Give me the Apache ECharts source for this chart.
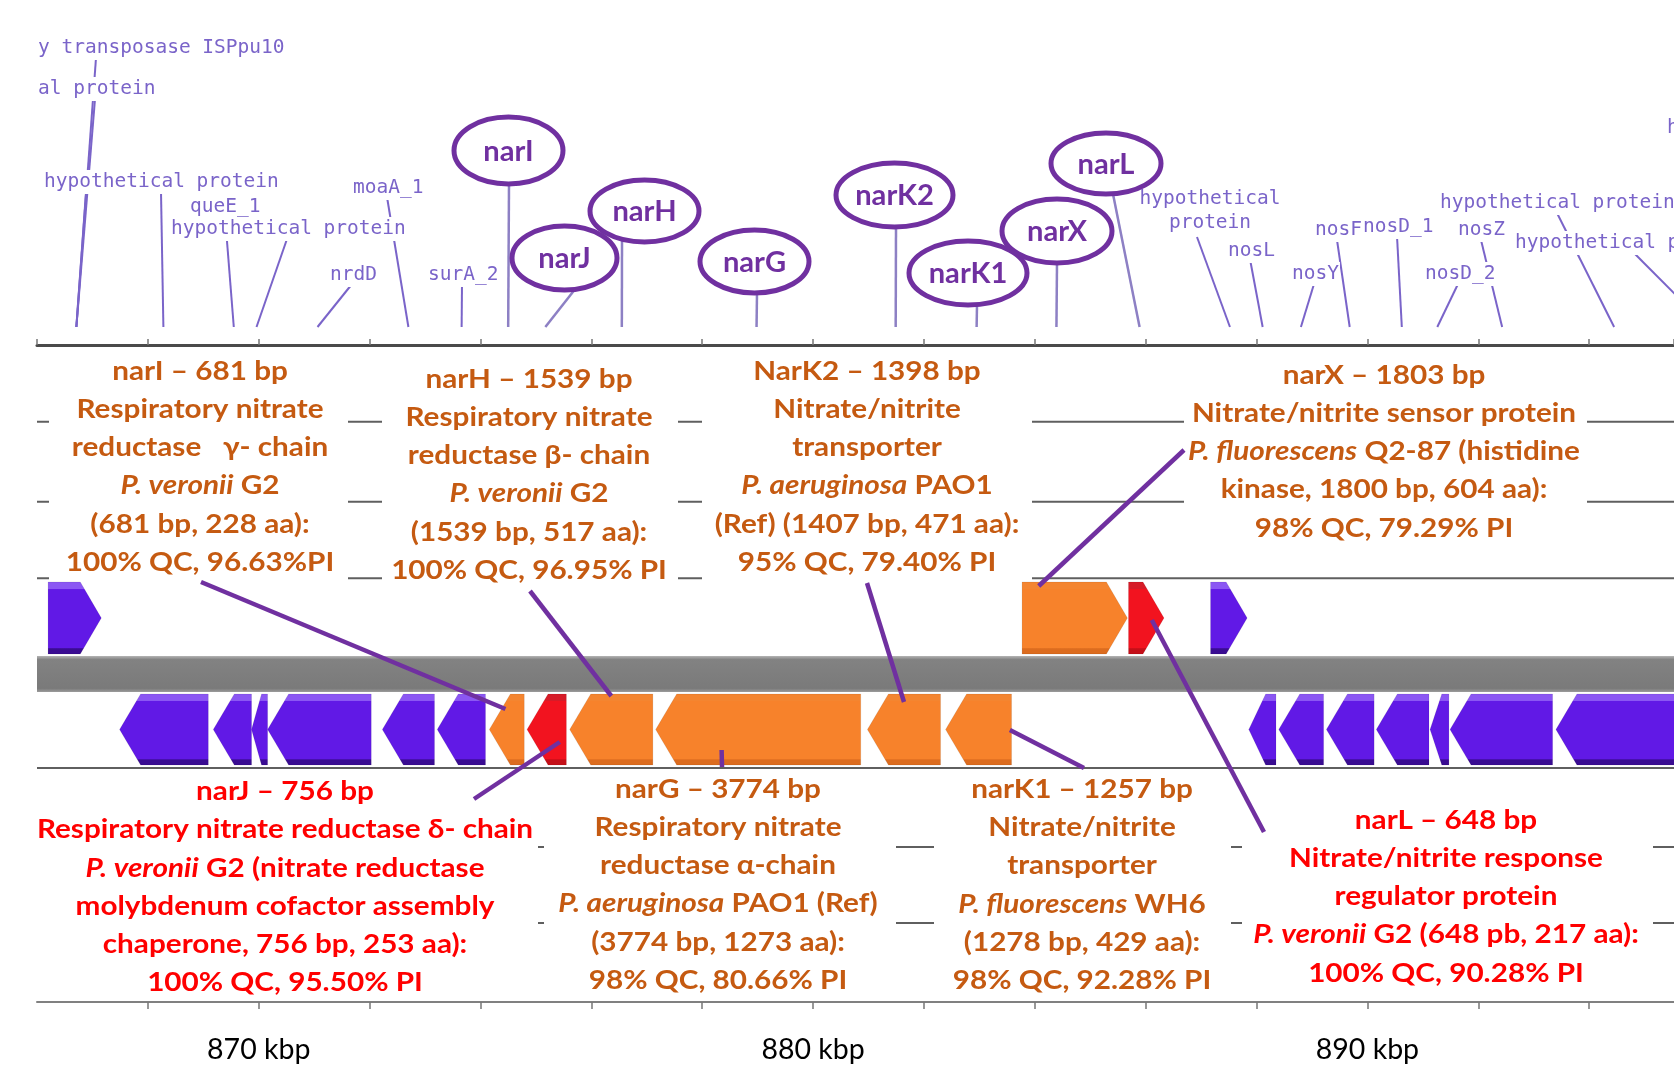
<!DOCTYPE html>
<html>
<head>
<meta charset="utf-8">
<script src="https://cdn.jsdelivr.net/npm/echarts@6/dist/echarts.min.js"></script>
<style>
  html, body { margin: 0; padding: 0; background: #ffffff; }
  #chart { width: 1674px; height: 1083px; }
</style>
</head>
<body>
<div id="chart"></div>
<script>
// ---------------------------------------------------------------
// Genome window (kbp) and axis ticks
// ---------------------------------------------------------------
const AXIS_MIN = 866;
const AXIS_MAX = 895.53;
const TICK_STEP = 2;
const AXIS_LABEL_KBP = [870, 880, 890];

// ---------------------------------------------------------------
// Genes (kbp); strand +1 forward, -1 reverse
// group: 'other' (purple), 'nar' (orange), 'focus' (red)
// ---------------------------------------------------------------
const geneNames  = ['g1', 'narX', 'narL', 'g2',
                    'r1', 'r2', 'r3', 'r4', 'r5', 'r6',
                    'narI', 'narJ', 'narH', 'narG', 'narK2', 'narK1',
                    'r7', 'r8', 'r9', 'r10', 'r11', 'r12', 'r13'];
const geneStart  = [866.20, 883.77, 885.69, 887.17,
                    867.49, 869.18, 869.87, 870.16, 872.23, 873.22,
                    874.16, 874.84, 875.61, 877.16, 880.98, 882.39,
                    887.86, 888.40, 889.26, 890.16, 891.13, 891.49, 893.40];
const geneEnd    = [867.16, 885.67, 886.33, 887.83,
                    869.09, 869.87, 870.16, 872.03, 873.17, 874.09,
                    874.79, 875.55, 877.11, 880.86, 882.30, 883.58,
                    888.35, 889.21, 890.12, 891.11, 891.47, 893.34, 896.50];
const geneStrand = [1, 1, 1, 1,
                    -1, -1, -1, -1, -1, -1,
                    -1, -1, -1, -1, -1, -1,
                    -1, -1, -1, -1, -1, -1, -1];
const geneGroup  = ['other', 'nar', 'focus', 'other',
                    'other', 'other', 'other', 'other', 'other', 'other',
                    'nar', 'focus', 'nar', 'nar', 'nar', 'nar',
                    'other', 'other', 'other', 'other', 'other', 'other', 'other'];

// ---------------------------------------------------------------
// Feature labels above the map and the gene (kbp) each one points to
// ---------------------------------------------------------------
const featureText = ['y transposase ISPpu10', 'al protein', 'hypothetical protein', 'queE_1',
                     'hypothetical protein', 'moaA_1', 'nrdD', 'surA_2',
                     'hypothetical\nprotein', 'nosL', 'nosY', 'nosF', 'nosD_1', 'nosZ', 'nosD_2',
                     'hypothetical protein', 'hypothetical protein', 'hypothetical protein'];
const featureAnchorKbp = [[866.71], [866.71], [866.71, 868.28], [869.55],
                          [869.96], [872.70], [871.06], [873.66],
                          [887.52], [888.11], [888.80], [889.68], [890.62], [892.43], [891.26],
                          [894.45], [896.14], []];

// nar gene tags (ellipses) and their anchor (kbp)
const tagText      = ['narI', 'narH', 'narJ', 'narG', 'narK2', 'narK1', 'narX', 'narL'];
const tagAnchorKbp = [874.50, 876.55, 875.17, 878.98, 881.49, 882.95, 884.39, 885.89];

// ---------------------------------------------------------------
// BLAST summaries for the nar cluster
// ---------------------------------------------------------------
const noteNarI  = ['narI – 681 bp', 'Respiratory nitrate', 'reductase   γ- chain', '{i|P. veronii} G2', '(681 bp, 228 aa):', '100% QC, 96.63%PI'];
const noteNarH  = ['narH – 1539 bp', 'Respiratory nitrate', 'reductase β- chain', '{i|P. veronii} G2', '(1539 bp, 517 aa):', '100% QC, 96.95% PI'];
const noteNarK2 = ['NarK2 – 1398 bp', 'Nitrate/nitrite', 'transporter', '{i|P. aeruginosa} PAO1', '(Ref) (1407 bp, 471 aa):', '95% QC, 79.40% PI'];
const noteNarX  = ['narX – 1803 bp', 'Nitrate/nitrite sensor protein', '{i|P. fluorescens} Q2-87 (histidine', 'kinase, 1800 bp, 604 aa):', '98% QC, 79.29% PI'];
const noteNarJ  = ['narJ – 756 bp', 'Respiratory nitrate reductase δ- chain', '{i|P. veronii} G2 (nitrate reductase', 'molybdenum cofactor assembly', 'chaperone, 756 bp, 253 aa):', '100% QC, 95.50% PI'];
const noteNarG  = ['narG – 3774 bp', 'Respiratory nitrate', 'reductase α-chain', '{i|P. aeruginosa} PAO1 (Ref)', '(3774 bp, 1273 aa):', '98% QC, 80.66% PI'];
const noteNarK1 = ['narK1 – 1257 bp', 'Nitrate/nitrite', 'transporter', '{i|P. fluorescens} WH6', '(1278 bp, 429 aa):', '98% QC, 92.28% PI'];
const noteNarL  = ['narL – 648 bp', 'Nitrate/nitrite response', 'regulator protein', '{i|P. veronii} G2 (648 pb, 217 aa):', '100% QC, 90.28% PI'];

// gene position (kbp) each summary's pointer lands on
const pointerKbp = [874.45, 876.36, 881.64, 884.07, 875.43, 878.35, 883.55, 886.11];

// ---------------------------------------------------------------
// Layout (pixels)
// ---------------------------------------------------------------
const GRID_LEFT = 37;
const AXIS_Y = 1002;
const TOP_AXIS_Y = 345;
const FWD_TRACK = [582, 654];
const REV_TRACK = [694, 765];
const BAND = [656, 692];
const TRACK_LINES_Y = [421.7, 501.7, 578.3, 768, 847, 923];
const LABEL_LINE_END_Y = 327;

const FONT = 'Lato, "Noto Sans", sans-serif';
const MONO = '"DejaVu Sans Mono", "Liberation Mono", monospace';
const ORANGE = '#c55a11';
const RED = '#ff0000';
const TAG_PURPLE = '#7030a0';
const LABEL_PURPLE = '#7a64c9';
const NOTE_SIZE = 27;
const NOTE_STRETCH = 1.1;

// text position [x, y(center)] and the start of each pointer line
const featureLayout = [
  { x: 37,   y: 48,  from: [[96, 58]] },
  { x: 37,   y: 89,  from: [[95, 99]] },
  { x: 43,   y: 182, from: [[86, 192], [161, 192]] },
  { x: 189,  y: 207, from: [[225, 216]] },
  { x: 170,  y: 229, from: [[287, 239]] },
  { x: 352,  y: 188, from: [[387, 197]] },
  { x: 329,  y: 275, from: [[352, 284]] },
  { x: 427,  y: 275, from: [[462, 284]] },
  { x: 1210, y: 211, center: true, from: [[1197, 237]] },
  { x: 1227, y: 251, from: [[1250, 259]] },
  { x: 1291, y: 274, from: [[1314, 284]] },
  { x: 1314, y: 230, from: [[1337, 240]] },
  { x: 1362, y: 227, from: [[1397, 236]] },
  { x: 1457, y: 230, from: [[1481, 240]] },
  { x: 1424, y: 274, from: [[1458, 284]] },
  { x: 1439, y: 203, from: [[1557, 213]] },
  { x: 1514, y: 243, from: [[1633, 252]] },
  { x: 1666, y: 128, from: [] }
];

// ellipse [cx, cy, rx, ry] and pointer start
const tagLayout = [
  { c: [508.5, 150.5, 54.5, 33.5], from: [509, 184] },
  { c: [644.5, 211, 54.5, 31],     from: [622, 241] },
  { c: [564.5, 258, 52.5, 32],     from: [576, 288] },
  { c: [754.5, 261.5, 54.5, 31.5], from: [757, 293] },
  { c: [894.5, 195, 58.5, 32],     from: [896, 227] },
  { c: [968, 273, 59, 32],         from: [977, 305] },
  { c: [1057, 231, 55, 32],        from: [1057, 263] },
  { c: [1106, 163.5, 55, 30.5],    from: [1113, 194] }
];

// summary blocks: text centre, colour, white backing box
const notes = [
  { lines: noteNarI,  x: 200,  y: 466.5, color: ORANGE, box: [49, 350, 299, 230] },
  { lines: noteNarH,  x: 529,  y: 474.5, color: ORANGE, box: [382, 350, 296, 230] },
  { lines: noteNarK2, x: 867,  y: 466.5, color: ORANGE, box: [702, 350, 330, 230] },
  { lines: noteNarX,  x: 1384, y: 451.5, color: ORANGE, box: [1184, 350, 403, 190] },
  { lines: noteNarJ,  x: 285,  y: 887,   color: RED,    box: [37, 772, 501, 226] },
  { lines: noteNarG,  x: 718,  y: 884.5, color: ORANGE, box: [544, 772, 352, 226] },
  { lines: noteNarK1, x: 1082, y: 884.8, color: ORANGE, box: [934, 772, 297, 226] },
  { lines: noteNarL,  x: 1446, y: 896.5, color: RED,    box: [1242, 772, 411, 226] }
];

// pointer start [x, y] on the summary side, and y where it meets the gene
const pointerLayout = [
  { from: [201, 582],  y: 709 },
  { from: [530, 591],  y: 696 },
  { from: [867, 583],  y: 702 },
  { from: [1184, 450], y: 586 },
  { from: [474, 799],  y: 742 },
  { from: [722, 767],  y: 750 },
  { from: [1084, 768], y: 730 },
  { from: [1264, 832], y: 620 }
];

const GENE_COLORS = {
  other: { top: '#8b57f3', main: '#6119e6', bottom: '#3a0c92' },
  nar:   { top: '#f48530', main: '#f7822b', bottom: '#dc6c1f' },
  focus: { top: '#d61c28', main: '#f2131f', bottom: '#c40f18' }
};

// ---------------------------------------------------------------
const chart = echarts.init(document.getElementById('chart'), null, { renderer: 'canvas' });

function geneFill(group) {
  const c = GENE_COLORS[group];
  return new echarts.graphic.LinearGradient(0, 0, 0, 1, [
    { offset: 0, color: c.top }, { offset: 0.1, color: c.top },
    { offset: 0.11, color: c.main }, { offset: 0.91, color: c.main },
    { offset: 0.92, color: c.bottom }, { offset: 1, color: c.bottom }
  ]);
}

const geneData = geneNames.map((n, i) => [geneStart[i], geneEnd[i], geneStrand[i], i]);

function renderGene(params, api) {
  const i = api.value(3);
  const x1 = api.coord([api.value(0), 0])[0];
  const x2 = api.coord([api.value(1), 0])[0];
  const fwd = api.value(2) > 0;
  const [top, bottom] = fwd ? FWD_TRACK : REV_TRACK;
  const mid = (top + bottom) / 2;
  const w = x2 - x1;
  const head = Math.min(21, w * 0.62);
  const pts = fwd
    ? [[x1, top], [x2 - head, top], [x2, mid], [x2 - head, bottom], [x1, bottom]]
    : [[x1, mid], [x1 + head, top], [x2, top], [x2, bottom], [x1 + head, bottom]];
  return {
    type: 'polygon',
    shape: { points: pts },
    style: { fill: geneFill(geneGroup[i]), stroke: 'rgba(0,0,0,0.08)', lineWidth: 1 }
  };
}

// pointer lines from feature labels down to the genes
const featureLineData = [];
featureText.forEach((t, i) => {
  featureAnchorKbp[i].forEach((k, j) => featureLineData.push([k, i, j]));
});
function renderFeatureLine(params, api) {
  const k = api.value(0), i = api.value(1), j = api.value(2);
  const from = featureLayout[i].from[j];
  const x = api.coord([k, 0])[0];
  return {
    type: 'line',
    shape: { x1: from[0], y1: from[1], x2: x, y2: LABEL_LINE_END_Y },
    style: { stroke: LABEL_PURPLE, lineWidth: 2 }
  };
}

const featureTextData = featureText.map((t, i) => [i]);
function renderFeatureText(params, api) {
  const i = api.value(0);
  const L = featureLayout[i];
  return {
    type: 'text',
    x: L.x, y: L.y,
    style: {
      text: featureText[i],
      fill: LABEL_PURPLE,
      fontSize: 19.5, fontFamily: MONO,
      align: L.center ? 'center' : 'left', textAlign: L.center ? 'center' : 'left',
      verticalAlign: 'middle', textVerticalAlign: 'middle',
      lineHeight: 24,
      backgroundColor: '#ffffff',
      padding: [0, 1]
    }
  };
}

// ellipse tags and their pointer lines
const tagData = tagText.map((t, i) => [tagAnchorKbp[i], i]);
function renderTagLine(params, api) {
  const i = api.value(1);
  const x = api.coord([api.value(0), 0])[0];
  const f = tagLayout[i].from;
  return {
    type: 'line',
    shape: { x1: f[0], y1: f[1], x2: x, y2: LABEL_LINE_END_Y },
    style: { stroke: '#8d80c4', lineWidth: 2.5 }
  };
}
function renderTag(params, api) {
  const i = api.value(1);
  const c = tagLayout[i].c;
  return {
    type: 'group',
    children: [
      { type: 'ellipse', shape: { cx: c[0], cy: c[1], rx: c[2], ry: c[3] },
        style: { fill: '#ffffff', stroke: TAG_PURPLE, lineWidth: 5 } },
      { type: 'text', x: c[0], y: c[1] + 1, scaleX: 1.04,
        style: { text: tagText[i], fill: TAG_PURPLE,
                 fontSize: 28, fontWeight: 'bold', fontFamily: FONT,
                 align: 'center', textAlign: 'center',
                 verticalAlign: 'middle', textVerticalAlign: 'middle' } }
    ]
  };
}

// pointers from the summaries to the genes
const pointerData = pointerKbp.map((k, i) => [k, i]);
function renderPointer(params, api) {
  const i = api.value(1);
  const P = pointerLayout[i];
  const x = api.coord([api.value(0), 0])[0];
  return {
    type: 'line',
    shape: { x1: P.from[0], y1: P.from[1], x2: x, y2: P.y },
    style: { stroke: TAG_PURPLE, lineWidth: 4.5, lineCap: 'butt' }
  };
}

// static drawing: track guide lines, white backing boxes, grey band, summaries
const graphics = [];
TRACK_LINES_Y.forEach(y => {
  graphics.push({ type: 'line', z: 0, silent: true,
    shape: { x1: GRID_LEFT, y1: y, x2: 1674, y2: y },
    style: { stroke: '#5f5f5f', lineWidth: 2 } });
});
graphics.push({ type: 'rect', z: 0, silent: true,
  shape: { x: GRID_LEFT, y: BAND[0], width: 1674 - GRID_LEFT, height: BAND[1] - BAND[0] },
  style: { fill: new echarts.graphic.LinearGradient(0, 0, 0, 1, [
    { offset: 0, color: '#b4b4b4' }, { offset: 0.1, color: '#828282' },
    { offset: 0.9, color: '#7a7a7a' }, { offset: 1, color: '#9c9c9c' }]) } });
notes.forEach(n => {
  graphics.push({ type: 'rect', z: 1, silent: true,
    shape: { x: n.box[0], y: n.box[1], width: n.box[2], height: n.box[3] },
    style: { fill: '#ffffff' } });
  graphics.push({ type: 'text', z: 3, silent: true, x: n.x, y: n.y, scaleX: NOTE_STRETCH,
    style: {
      text: n.lines.join('\n'),
      fill: n.color,
      fontSize: NOTE_SIZE, fontWeight: 'bold', fontFamily: FONT,
      align: 'center', textAlign: 'center',
      verticalAlign: 'middle', textVerticalAlign: 'middle',
      lineHeight: 38.2,
      rich: { i: { fill: n.color, fontSize: NOTE_SIZE, fontWeight: 'bold', fontStyle: 'italic', fontFamily: FONT, lineHeight: 38.2 } }
    } });
});

const option = {
  animation: false,
  backgroundColor: '#ffffff',
  grid: [
    { left: GRID_LEFT, right: 0, top: 0, bottom: 1083 - AXIS_Y },
    { left: GRID_LEFT, right: 0, top: 0, height: TOP_AXIS_Y }
  ],
  xAxis: [
    { type: 'value', gridIndex: 0, min: AXIS_MIN, max: AXIS_MAX, interval: TICK_STEP,
      position: 'bottom',
      axisLine: { show: true, onZero: false, lineStyle: { color: '#808080', width: 2 } },
      axisTick: { show: true, length: 7, lineStyle: { color: '#777777', width: 1.5 } },
      splitLine: { show: false },
      axisLabel: { show: true, margin: 33, fontSize: 28.5, fontFamily: FONT, color: '#000000',
        showMinLabel: false, showMaxLabel: false,
        formatter: v => AXIS_LABEL_KBP.indexOf(Math.round(v)) >= 0 && Math.abs(v - Math.round(v)) < 1e-6 ? v + ' kbp' : '' } },
    { type: 'value', gridIndex: 1, min: AXIS_MIN, max: AXIS_MAX, interval: TICK_STEP,
      position: 'bottom',
      axisLine: { show: true, onZero: false, lineStyle: { color: '#4a4a4a', width: 3 } },
      axisTick: { show: true, inside: true, length: 6, lineStyle: { color: '#777777', width: 1.5 } },
      splitLine: { show: false },
      axisLabel: { show: false } }
  ],
  yAxis: [
    { type: 'value', gridIndex: 0, min: 0, max: AXIS_Y, inverse: true, show: false },
    { type: 'value', gridIndex: 1, min: 0, max: 1, show: false }
  ],
  graphic: { elements: graphics },
  series: [
    { type: 'custom', name: 'genes', xAxisIndex: 0, yAxisIndex: 0, z: 4, clip: true,
      renderItem: renderGene, encode: { x: [0, 1] }, data: geneData, silent: true },
    { type: 'custom', name: 'featureLines', xAxisIndex: 0, yAxisIndex: 0, z: 4, clip: false,
      renderItem: renderFeatureLine, encode: { x: 0 }, data: featureLineData, silent: true },
    { type: 'custom', name: 'tagLines', xAxisIndex: 0, yAxisIndex: 0, z: 4, clip: false,
      renderItem: renderTagLine, encode: { x: 0 }, data: tagData, silent: true },
    { type: 'custom', name: 'featureText', xAxisIndex: 0, yAxisIndex: 0, z: 5, clip: false,
      renderItem: renderFeatureText, data: featureTextData, silent: true },
    { type: 'custom', name: 'tags', xAxisIndex: 0, yAxisIndex: 0, z: 6, clip: false,
      renderItem: renderTag, encode: { x: 0 }, data: tagData, silent: true },
    { type: 'custom', name: 'pointers', xAxisIndex: 0, yAxisIndex: 0, z: 7, clip: false,
      renderItem: renderPointer, encode: { x: 0 }, data: pointerData, silent: true }
  ]
};

chart.setOption(option);
</script>
</body>
</html>
